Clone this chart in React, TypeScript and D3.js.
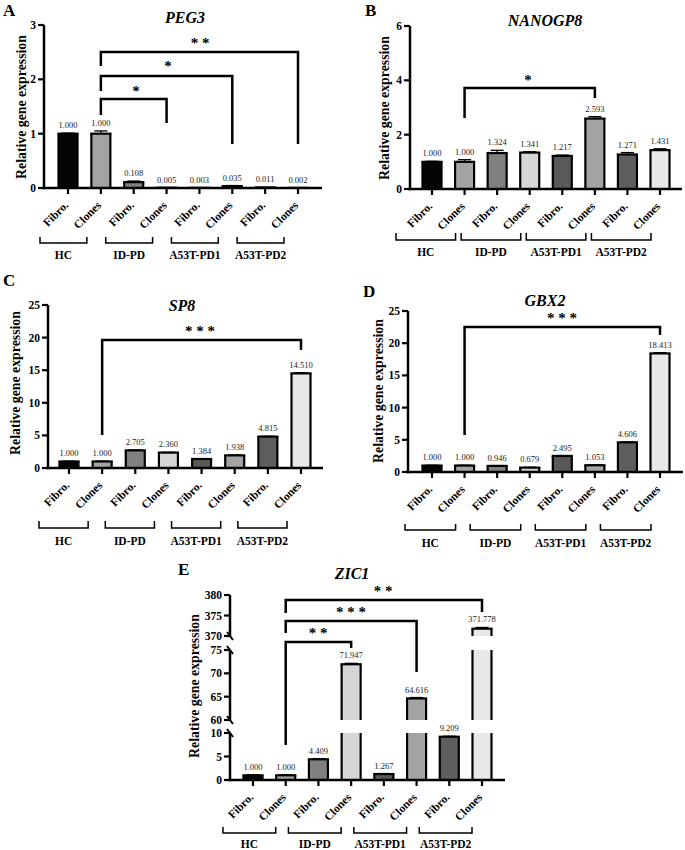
import React from 'react';
import * as d3 from 'd3';

const categories = ['Fibro.', 'Clones', 'Fibro.', 'Clones', 'Fibro.', 'Clones', 'Fibro.', 'Clones'];
const groups = ['HC', 'ID-PD', 'A53T-PD1', 'A53T-PD2'];
const barColors = ['#050505', '#a3a3a3', '#808080', '#d6d6d6', '#595959', '#a3a3a3', '#5e5e5e', '#e8e8e8'];

const peg3Values = [1.0, 1.0, 0.108, 0.005, 0.003, 0.035, 0.011, 0.002];
const peg3Errors = [0.01, 0.05, 0.02, 0, 0, 0.01, 0, 0];
const nanogValues = [1.0, 1.0, 1.324, 1.341, 1.217, 2.593, 1.271, 1.431];
const nanogErrors = [0.02, 0.08, 0.1, 0.03, 0.03, 0.07, 0.07, 0.05];
const sp8Values = [1.0, 1.0, 2.705, 2.36, 1.384, 1.938, 4.815, 14.51];
const sp8Errors = [0.05, 0.05, 0.05, 0.05, 0.05, 0.05, 0.05, 0.1];
const gbx2Values = [1.0, 1.0, 0.946, 0.679, 2.495, 1.053, 4.606, 18.413];
const gbx2Errors = [0.05, 0.05, 0.05, 0.05, 0.05, 0.05, 0.05, 0.1];
const zic1Values = [1.0, 1.0, 4.409, 71.947, 1.267, 64.616, 9.209, 371.778];
const zic1Errors = [0.1, 0.1, 0.1, 0.2, 0.1, 0.2, 0.1, 0.3];

const peg3Ticks = [0, 1, 2, 3];
const nanogTicks = [0, 2, 4, 6];
const sp8Ticks = [0, 5, 10, 15, 20, 25];
const gbx2Ticks = [0, 5, 10, 15, 20, 25];
const zic1LowTicks = [0, 5, 10];
const zic1MidTicks = [60, 65, 70, 75];
const zic1HighTicks = [370, 375, 380];

const FONT = '"Liberation Serif", "Times New Roman", Times, serif';

type Seg = { min: number; max: number; bottom: number; top: number; ticks: number[] };
type Bracket = { from: number; to: number; y: number; leftEnd: number; rightEnd: number; stars: string; sx: number; sy: number };
type PanelCfg = {
  letter: string; letterX: number; letterY: number;
  title: string; titleX: number; titleY: number;
  axisX: number; axisEnd: number; firstX: number; lastX: number;
  segs: Seg[]; values: number[]; errors: number[];
  brackets: Bracket[];
  groupY: number; groupTick: number; groupLeft: number; groupRight: number; groupLabelY: number;
  yTitleX: number; yTitleY: number;
};

const panels: PanelCfg[] = [
  {
    letter: 'A', letterX: 3, letterY: 16, title: 'PEG3', titleX: 185, titleY: 23,
    axisX: 44, axisEnd: 322, firstX: 68, lastX: 298,
    segs: [{ min: 0, max: 3, bottom: 188, top: 25, ticks: peg3Ticks }],
    values: peg3Values, errors: peg3Errors,
    brackets: [
      { from: 1, to: 7, y: 52, leftEnd: 66, rightEnd: 144, stars: '* *', sx: 200, sy: 40 },
      { from: 1, to: 5, y: 76, leftEnd: 91, rightEnd: 144, stars: '*', sx: 168, sy: 63 },
      { from: 1, to: 3, y: 99, leftEnd: 115, rightEnd: 123, stars: '*', sx: 136, sy: 88 },
    ],
    groupY: 243, groupTick: 237, groupLeft: -28, groupRight: -14, groupLabelY: 259,
    yTitleX: 26, yTitleY: 107,
  },
  {
    letter: 'B', letterX: 365, letterY: 16, title: 'NANOGP8', titleX: 545, titleY: 26,
    axisX: 410, axisEnd: 682, firstX: 432, lastX: 660,
    segs: [{ min: 0, max: 6, bottom: 189, top: 26, ticks: nanogTicks }],
    values: nanogValues, errors: nanogErrors,
    brackets: [
      { from: 1, to: 5, y: 88, leftEnd: 118, rightEnd: 98, stars: '*', sx: 528, sy: 77 },
    ],
    groupY: 240, groupTick: 233, groupLeft: -36, groupRight: -9, groupLabelY: 256,
    yTitleX: 389, yTitleY: 108,
  },
  {
    letter: 'C', letterX: 3, letterY: 286, title: 'SP8', titleX: 182, titleY: 311,
    axisX: 48, axisEnd: 323, firstX: 69, lastX: 301,
    segs: [{ min: 0, max: 25, bottom: 468, top: 305, ticks: sp8Ticks }],
    values: sp8Values, errors: sp8Errors,
    brackets: [
      { from: 1, to: 7, y: 340, leftEnd: 435, rightEnd: 350, stars: '* * *', sx: 200, sy: 328 },
    ],
    groupY: 528, groupTick: 521, groupLeft: -30, groupRight: -14, groupLabelY: 545,
    yTitleX: 20, yTitleY: 383,
  },
  {
    letter: 'D', letterX: 363, letterY: 297, title: 'GBX2', titleX: 545, titleY: 306,
    axisX: 408, axisEnd: 683, firstX: 432, lastX: 660,
    segs: [{ min: 0, max: 25, bottom: 472, top: 311, ticks: gbx2Ticks }],
    values: gbx2Values, errors: gbx2Errors,
    brackets: [
      { from: 1, to: 7, y: 327, leftEnd: 435, rightEnd: 335, stars: '* * *', sx: 562, sy: 315 },
    ],
    groupY: 530, groupTick: 524, groupLeft: -27, groupRight: -9, groupLabelY: 547,
    yTitleX: 383, yTitleY: 391,
  },
  {
    letter: 'E', letterX: 178, letterY: 575, title: 'ZIC1', titleX: 352, titleY: 579,
    axisX: 230, axisEnd: 505, firstX: 253, lastX: 482,
    segs: [
      { min: 0, max: 10, bottom: 780, top: 733, ticks: zic1LowTicks },
      { min: 60, max: 75, bottom: 720, top: 650, ticks: zic1MidTicks },
      { min: 370, max: 380, bottom: 636, top: 595, ticks: zic1HighTicks },
    ],
    values: zic1Values, errors: zic1Errors,
    brackets: [
      { from: 1, to: 7, y: 600, leftEnd: 613, rightEnd: 612, stars: '* *', sx: 383, sy: 588 },
      { from: 1, to: 5, y: 621, leftEnd: 633, rightEnd: 672, stars: '* * *', sx: 351, sy: 609 },
      { from: 1, to: 3, y: 642, leftEnd: 745, rightEnd: 648, stars: '* *', sx: 318, sy: 630 },
    ],
    groupY: 833, groupTick: 827, groupLeft: -30, groupRight: -10, groupLabelY: 848,
    yTitleX: 199, yTitleY: 686,
  },
];

const BAR_W = 19;

function Panel({ cfg }: { cfg: PanelCfg }) {
  const x = d3.scalePoint<number>().domain(d3.range(8)).range([cfg.firstX, cfg.lastX]);
  const scales = cfg.segs.map((s) => d3.scaleLinear().domain([s.min, s.max]).range([s.bottom, s.top]));
  const y0 = cfg.segs[0].bottom;
  const segIndexOf = (v: number) => {
    for (let k = cfg.segs.length - 1; k >= 0; k--) if (v >= cfg.segs[k].min) return k;
    return 0;
  };
  const els: React.ReactNode[] = [];

  // bars
  cfg.values.forEach((v, i) => {
    const cx = x(i)!;
    const l = cx - BAR_W / 2;
    const r = cx + BAR_W / 2;
    cfg.segs.forEach((s, k) => {
      if (k > 0 && v <= s.min) return;
      const sc = scales[k];
      const topV = Math.min(v, s.max);
      const yb = sc(s.min);
      const yt = sc(topV);
      const final = v <= s.max;
      els.push(<rect key={`f${i}-${k}`} x={l} y={yt} width={BAR_W} height={Math.max(0, yb - yt)} fill={barColors[i]} />);
      els.push(<line key={`l${i}-${k}`} x1={l} x2={l} y1={yb} y2={yt} stroke="#000" strokeWidth={2.2} />);
      els.push(<line key={`r${i}-${k}`} x1={r} x2={r} y1={yb} y2={yt} stroke="#000" strokeWidth={2.2} />);
      if (final) els.push(<line key={`t${i}-${k}`} x1={l - 1.1} x2={r + 1.1} y1={yt} y2={yt} stroke="#000" strokeWidth={2.2} />);
    });
    // error bar
    const k = segIndexOf(v);
    const sc = scales[k];
    const e = cfg.errors[i];
    const yv = sc(v);
    const ye = sc(v + e);
    if (e > 0) {
      els.push(<line key={`ev${i}`} x1={cx} x2={cx} y1={yv} y2={ye} stroke="#000" strokeWidth={1.3} />);
      els.push(<line key={`ec${i}`} x1={cx - 6.5} x2={cx + 6.5} y1={ye} y2={ye} stroke="#000" strokeWidth={1.3} />);
    }
    els.push(
      <text key={`v${i}`} x={cx} y={Math.min(yv, ye) - 5} textAnchor="middle" fontSize={8.5} fill="#222" fontFamily={FONT}>
        {v.toFixed(3)}
      </text>
    );
  });

  // axes
  els.push(<line key="xa" x1={cfg.axisX - 1.2} x2={cfg.axisEnd} y1={y0} y2={y0} stroke="#000" strokeWidth={2.5} />);
  cfg.values.forEach((_, i) => {
    els.push(<line key={`xt${i}`} x1={x(i)!} x2={x(i)!} y1={y0} y2={y0 + 6} stroke="#000" strokeWidth={2.2} />);
    els.push(
      <text key={`xl${i}`} transform={`translate(${x(i)! + 1},${y0 + 18}) rotate(-45)`} textAnchor="end"
        fontSize={11.5} fontWeight="bold" fontFamily={FONT} fill="#000">
        {categories[i]}
      </text>
    );
  });
  cfg.segs.forEach((s, k) => {
    const sc = scales[k];
    els.push(<line key={`ya${k}`} x1={cfg.axisX} x2={cfg.axisX} y1={s.bottom + (k === 0 ? 1.2 : 0)} y2={s.top} stroke="#000" strokeWidth={2.5} />);
    s.ticks.forEach((t) => {
      const yy = sc(t);
      els.push(<line key={`yt${k}-${t}`} x1={cfg.axisX - 6} x2={cfg.axisX} y1={yy} y2={yy} stroke="#000" strokeWidth={2.2} />);
      els.push(
        <text key={`yl${k}-${t}`} x={cfg.axisX - 8} y={yy} dy="0.35em" textAnchor="end" fontSize={11.5}
          fontWeight="bold" fontFamily={FONT} fill="#000">
          {t}
        </text>
      );
    });
    if (cfg.segs.length > 1) {
      if (k > 0) els.push(<line key={`bb${k}`} x1={cfg.axisX - 3} x2={cfg.axisX + 3} y1={s.bottom - 4} y2={s.bottom + 4} stroke="#000" strokeWidth={2} />);
      if (k < cfg.segs.length - 1) els.push(<line key={`bt${k}`} x1={cfg.axisX - 3} x2={cfg.axisX + 3} y1={s.top - 4} y2={s.top + 4} stroke="#000" strokeWidth={2} />);
    }
  });

  // significance brackets
  cfg.brackets.forEach((b, j) => {
    const xa = x(b.from)!;
    const xb = x(b.to)!;
    els.push(
      <path key={`br${j}`} d={`M${xa},${b.leftEnd}V${b.y}H${xb}V${b.rightEnd}`} fill="none" stroke="#000" strokeWidth={2.5} />
    );
    els.push(
      <text key={`st${j}`} x={b.sx} y={b.sy + 8} textAnchor="middle" fontSize={15} fontWeight="bold" fontFamily={FONT} fill="#000">
        {b.stars}
      </text>
    );
  });

  // group brackets
  groups.forEach((g, gi) => {
    const left = x(2 * gi)! + cfg.groupLeft;
    const right = x(2 * gi + 1)! + cfg.groupRight;
    els.push(
      <path key={`gb${gi}`} d={`M${left},${cfg.groupTick}V${cfg.groupY}H${right}V${cfg.groupTick}`} fill="none" stroke="#000" strokeWidth={1.5} />
    );
    els.push(
      <text key={`gl${gi}`} x={(left + right) / 2} y={cfg.groupLabelY} textAnchor="middle" fontSize={11.5} fontWeight="bold" fontFamily={FONT} fill="#000">
        {g}
      </text>
    );
  });

  // titles
  els.push(
    <text key="ytitle" transform={`translate(${cfg.yTitleX},${cfg.yTitleY}) rotate(-90)`} textAnchor="middle" fontSize={13.8}
      fontWeight="bold" fontFamily={FONT} fill="#000">
      Relative gene expression
    </text>
  );
  els.push(
    <text key="title" x={cfg.titleX} y={cfg.titleY} textAnchor="middle" fontSize={16} fontWeight="bold" fontStyle="italic" fontFamily={FONT} fill="#000">
      {cfg.title}
    </text>
  );
  els.push(
    <text key="letter" x={cfg.letterX} y={cfg.letterY} fontSize={17} fontWeight="bold" fontFamily={FONT} fill="#000">
      {cfg.letter}
    </text>
  );
  return <g>{els}</g>;
}

export default function App() {
  return (
    <svg width={685} height={850} viewBox="0 0 685 850" style={{ position: 'absolute', left: 0, top: 0, background: '#fff' }}>
      <rect x={0} y={0} width={685} height={850} fill="#fff" />
      {panels.map((p) => (
        <Panel key={p.letter} cfg={p} />
      ))}
    </svg>
  );
}
